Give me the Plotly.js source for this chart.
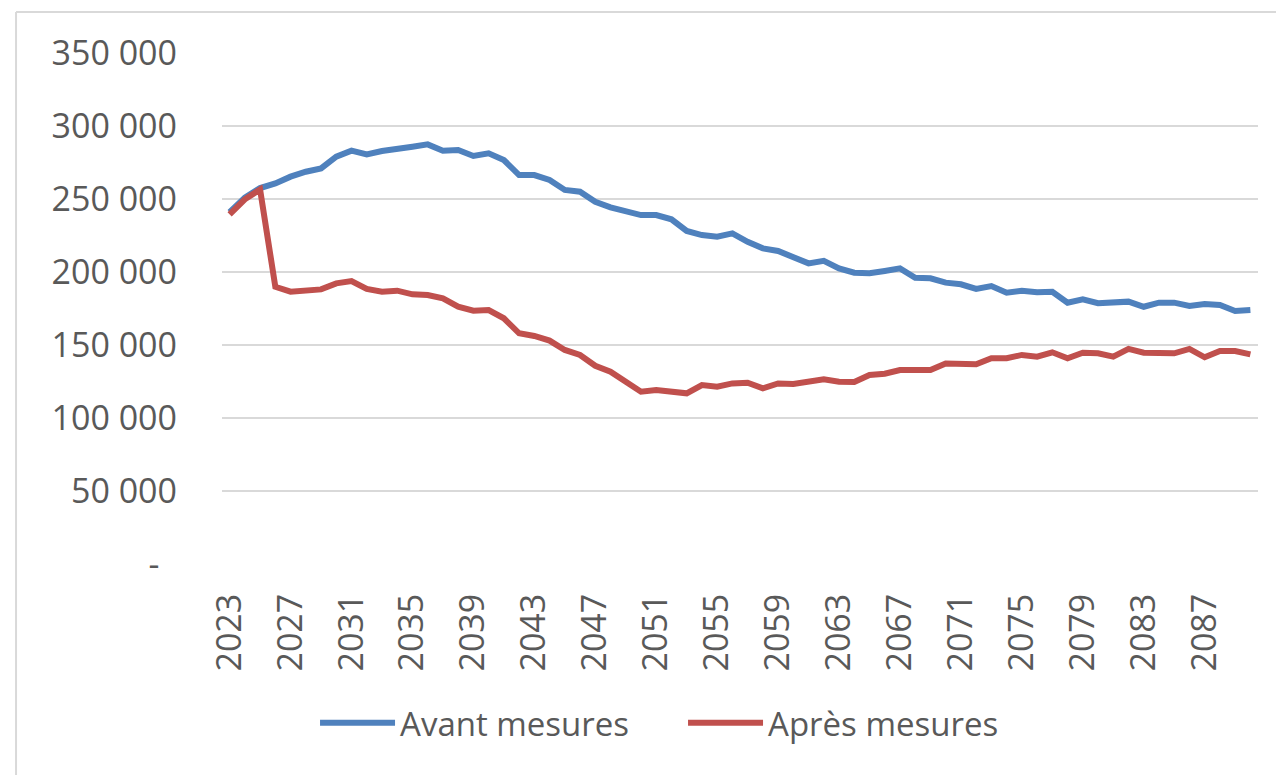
<!DOCTYPE html>
<html>
<head>
<meta charset="utf-8">
<script src="https://cdn.plot.ly/plotly-3.0.1.min.js"></script>
<style>
  html, body { margin: 0; padding: 0; background: #ffffff; }
  #chart { width: 1276px; height: 775px; }
</style>
</head>
<body>
<div id="chart"></div>
<script>
var years = [2023, 2024, 2025, 2026, 2027, 2028, 2029, 2030, 2031, 2032,
             2033, 2034, 2035, 2036, 2037, 2038, 2039, 2040, 2041, 2042,
             2043, 2044, 2045, 2046, 2047, 2048, 2049, 2050, 2051, 2052,
             2053, 2054, 2055, 2056, 2057, 2058, 2059, 2060, 2061, 2062,
             2063, 2064, 2065, 2066, 2067, 2068, 2069, 2070, 2071, 2072,
             2073, 2074, 2075, 2076, 2077, 2078, 2079, 2080, 2081, 2082,
             2083, 2084, 2085, 2086, 2087, 2088, 2089, 2090];

var avantMesures = [241000, 251000, 257500, 260700, 265300, 268700, 271000, 279000, 283100, 280600,
                    282900, 284000, 285800, 287400, 283100, 283600, 279500, 281300, 276700, 266400,
                    266400, 263000, 256200, 255000, 248100, 244300, 241300, 239000, 239000, 236100,
                    228100, 225300, 224200, 226500, 220700, 216200, 214400, 210100, 205900, 207700,
                    202500, 199500, 199100, 200700, 202500, 196100, 195700, 192700, 191600, 188400,
                    190400, 185800, 187200, 186100, 186500, 179000, 181300, 178600, 179000, 179700,
                    176200, 179000, 179000, 176700, 178100, 177400, 173300, 174000];

var apresMesures = [239500, 249800, 256500, 189900, 186500, 187200, 188100, 192200, 193800, 188400,
                    186500, 187200, 184700, 184200, 181900, 176200, 173500, 173900, 168300, 158000,
                    156200, 153000, 146600, 143200, 135800, 131700, 124900, 118000, 119200, 118500,
                    116900, 122600, 121400, 123700, 124200, 120300, 123700, 123300, 124400, 126500,
                    124900, 124700, 129500, 130300, 132900, 132900, 132900, 137400, 137400, 136800,
                    140900, 140900, 143200, 142000, 145000, 140900, 144700, 144300, 142000, 147300,
                    144700, 144900, 144300, 147300, 141600, 145900, 145900, 143600];

var xTickVals = [2023, 2027, 2031, 2035, 2039, 2043, 2047, 2051, 2055, 2059,
                 2063, 2067, 2071, 2075, 2079, 2083, 2087];
var xTickText = ["2023", "2027", "2031", "2035", "2039", "2043", "2047", "2051", "2055", "2059",
                 "2063", "2067", "2071", "2075", "2079", "2083", "2087"];

var yTickVals = [0, 50000, 100000, 150000, 200000, 250000, 300000, 350000];
var yTickText = ["-\u00a0\u00a0", "50 000", "100 000", "150 000", "200 000", "250 000", "300 000", "350 000"];

var seriesNames = ["Avant mesures", "Après mesures"];

var FONT = "'Open Sans', 'Liberation Sans', sans-serif";
var TEXT = "#595959";
var GRID = "#d9d9d9";

var traces = [
  {
    x: years, y: avantMesures, name: seriesNames[0], type: "scatter", mode: "lines",
    line: { color: "#4f81bd", width: 6 }
  },
  {
    x: years, y: apresMesures, name: seriesNames[1], type: "scatter", mode: "lines",
    line: { color: "#c0504d", width: 6 }
  }
];

var layout = {
  width: 1276, height: 775,
  margin: { l: 222, r: 18, t: 53, b: 211, pad: 0 },
  paper_bgcolor: "#ffffff", plot_bgcolor: "#ffffff",
  font: { family: FONT, size: 34, color: TEXT },
  showlegend: true,
  legend: {
    orientation: "h", x: 0.0898, xanchor: "left", y: -0.311, yanchor: "middle",
    font: { family: FONT, size: 33, color: TEXT },
    itemwidth: 75, entrywidth: 278, entrywidthmode: "pixels",
    tracegroupgap: 0, bgcolor: "rgba(0,0,0,0)"
  },
  xaxis: {
    range: [2022.5, 2090.5],
    tickmode: "array", tickvals: xTickVals, ticktext: xTickText,
    tickangle: -90, showgrid: false, zeroline: false, showline: false,
    ticks: "", ticklabelstandoff: 22,
    tickfont: { family: FONT, size: 34, color: TEXT }
  },
  yaxis: {
    range: [0, 350000],
    tickmode: "array", tickvals: yTickVals, ticktext: yTickText,
    showgrid: true, gridcolor: GRID, gridwidth: 2,
    zeroline: false, showline: false, ticks: "", ticklabelstandoff: 44,
    tickfont: { family: FONT, size: 34, color: TEXT }
  },
  shapes: [
    { type: "line", xref: "paper", yref: "paper", x0: -0.1988, x1: -0.1988, y0: 1.0802, y1: -0.42,
      line: { color: GRID, width: 2 } },
    { type: "line", xref: "paper", yref: "paper", x0: -0.1988, x1: 1.03, y0: 1.0802, y1: 1.0802,
      line: { color: GRID, width: 2 } }
  ]
};

Plotly.newPlot("chart", traces, layout, { displayModeBar: false, staticPlot: true });
</script>
</body>
</html>
